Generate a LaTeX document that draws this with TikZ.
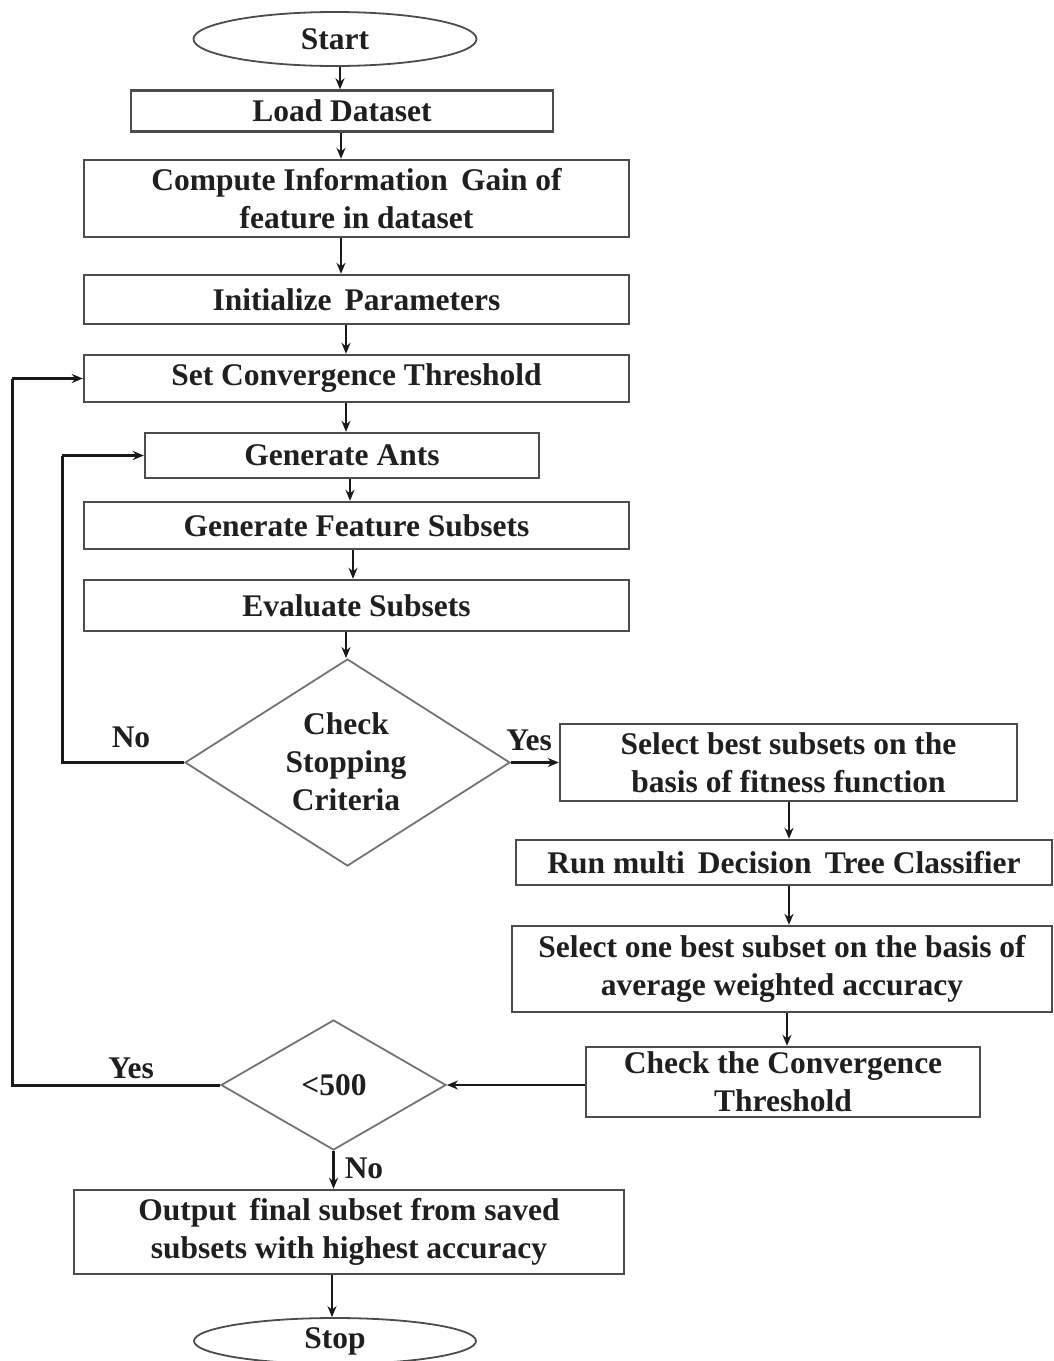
\documentclass[tikz,border=0pt]{standalone}
\usepackage{fontspec}
\setmainfont{Liberation Serif}
\usetikzlibrary{shapes.geometric,arrows.meta}
\tikzset{
  txt/.style={font=\fontsize{31.5}{38}\selectfont\bfseries, text=black!88, align=center},
  box/.style={txt, draw=black!70, line width=2.4pt, inner sep=0pt, rectangle},
  term/.style={txt, draw=black!70, line width=1.8pt, ellipse, inner sep=0pt},
  dia/.style={draw=black!55, line width=1.8pt, diamond, inner sep=0pt},
  arr/.style={line width=2.6pt, black!90, -{Stealth[length=11pt,width=9pt]}},
  lne/.style={line width=3pt, black!90},
  lbl/.style={txt}
}
\begin{document}
\begin{tikzpicture}[x=1pt,y=-1pt]
\useasboundingbox (0,0) rectangle (1053,1361);
% nodes
\node[term, minimum width=283, minimum height=54] (start) at (335,39) {Start};
\node[box, minimum width=422, minimum height=41] (load) at (342,111) {Load Dataset};
\node[box, minimum width=545, minimum height=77] (comp) at (356.5,198.5) {Compute Information \,Gain of\\feature in dataset};
\node[box, minimum width=545, minimum height=49] (init) at (356.5,299.5) {Initialize \,Parameters};
\node[box, minimum width=545, minimum height=47] (setc) at (356.5,378.5) {Set Convergence Threshold};
\node[box, minimum width=394, minimum height=45] (ants) at (342,455.5) {Generate Ants};
\node[box, minimum width=545, minimum height=47] (feat) at (356.5,525.5) {Generate Feature Subsets};
\node[box, minimum width=545, minimum height=51] (eval) at (356.5,605.5) {Evaluate Subsets};
\node[dia, minimum width=325, minimum height=207] (d1) at (347.5,762.5) {};
\node[txt] (d1t) at (346,762) {Check\\Stopping\\Criteria};
\node[box, minimum width=457, minimum height=77] (sel1) at (788.5,762.5) {Select best subsets on the\\basis of fitness function};
\node[box, minimum width=536, minimum height=45] (run) at (784,862.5) {Run multi \,Decision \,Tree Classifier};
\node[box, minimum width=540, minimum height=86] (sel2) at (782,969) {Select one best subset on the basis of\\average weighted accuracy};
\node[box, minimum width=394, minimum height=70] (chk) at (783,1082) {Check the Convergence\\Threshold};
\node[dia, minimum width=225, minimum height=130] (d2) at (333.5,1085) {};
\node[txt] (d2t) at (334,1085) {<500};
\node[box, minimum width=550, minimum height=84] (out) at (349,1232) {Output \,final subset from saved\\subsets with highest accuracy};
\node[term, minimum width=282, minimum height=46] (stop) at (335,1341) {Stop};
% labels
\node[lbl] (no1) at (131,737) {No};
\node[lbl] (yes1) at (529,740) {Yes};
\node[lbl] (yes2) at (131,1068) {Yes};
\node[lbl] (no2) at (364,1168) {No};
% vertical connectors
\coordinate (c340) at (340,0);
\coordinate (c341) at (341,0);
\coordinate (c346) at (346,0);
\coordinate (c350) at (350,0);
\coordinate (c353) at (353,0);
\coordinate (c789) at (789,0);
\coordinate (c787) at (787,0);
\coordinate (c332) at (332,0);
\draw[arr] (start.south -| c340) -- (load.north -| c340);
\draw[arr] (load.south -| c341) -- (comp.north -| c341);
\draw[arr] (comp.south -| c341) -- (init.north -| c341);
\draw[arr] (init.south -| c346) -- (setc.north -| c346);
\draw[arr] (setc.south -| c346) -- (ants.north -| c346);
\draw[arr] (ants.south -| c350) -- (feat.north -| c350);
\draw[arr] (feat.south -| c353) -- (eval.north -| c353);
\draw[arr] (eval.south -| c346) -- (d1.north -| c346);
\draw[arr] (d1.east) -- (sel1.west |- d1.east);
\draw[arr] (sel1.south -| c789) -- (run.north -| c789);
\draw[arr] (run.south -| c789) -- (sel2.north -| c789);
\draw[arr] (sel2.south -| c787) -- (chk.north -| c787);
\draw[arr] (chk.west |- d2.east) -- (d2.east);
\draw[arr] (d2.south) -- (out.north -| d2.south);
\draw[arr] (out.south -| c332) -- (stop.north -| c332);
% loops
\coordinate (lx1) at (62,0);
\coordinate (lx2) at (12,0);
\draw[lne] (d1.west) -- (d1.west -| lx1) -- (ants.west -| lx1);
\draw[arr, line width=3pt] (ants.west -| lx1) -- (ants.west);
\draw[lne] (d2.west) -- (d2.west -| lx2) -- (setc.west -| lx2);
\draw[arr, line width=3pt] (setc.west -| lx2) -- (setc.west);
\end{tikzpicture}
\end{document}
